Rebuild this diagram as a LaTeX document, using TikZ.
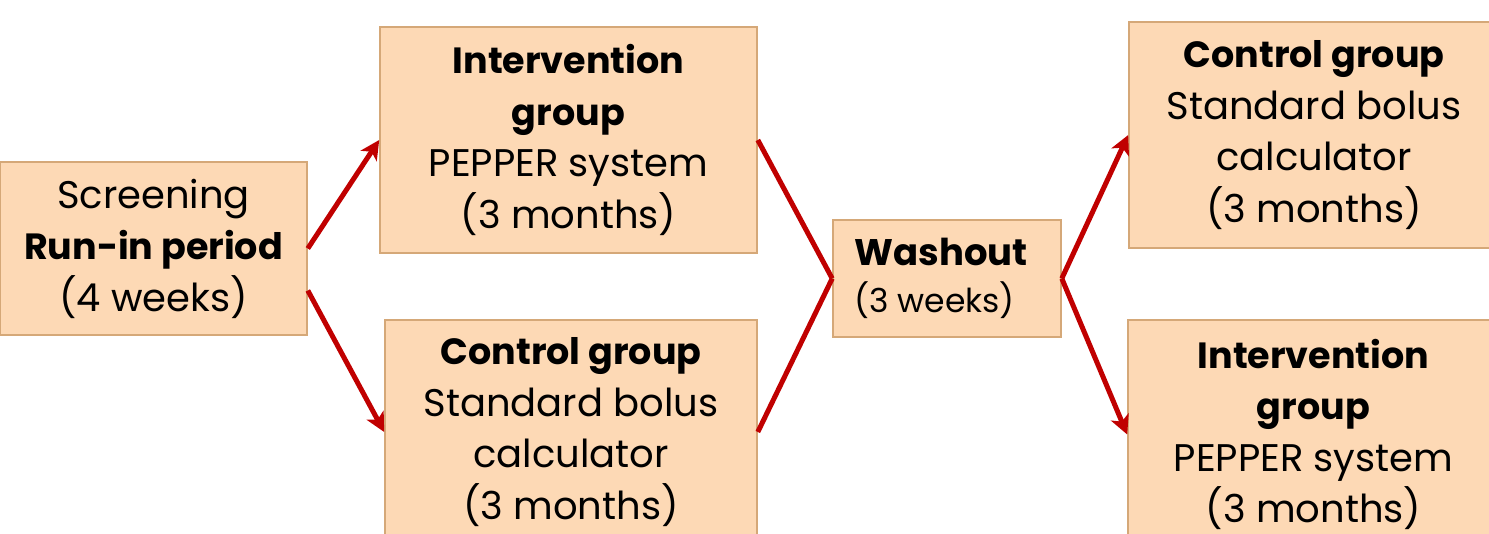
\documentclass[tikz,border=0pt]{standalone}
\usepackage{fontspec}
\setmainfont{Poppins}
\usetikzlibrary{arrows.meta}
\definecolor{boxfill}{HTML}{FDD9B5}
\definecolor{boxline}{HTML}{D5A878}
\definecolor{arrowred}{HTML}{C00000}
\newcommand{\hb}[1]{{\fontsize{36.5}{51.5}\selectfont\bfseries #1}}
\tikzset{
  box/.style={draw=boxline, fill=boxfill, line width=1.6pt, inner sep=0pt, align=center,
    font=\fontsize{38.5}{51.5}\selectfont},
  link/.style={draw=arrowred, line width=5pt},
  arrowlink/.style={link, -{Stealth[length=19pt,width=19pt,inset=5pt]}},
}
\begin{document}
\begin{tikzpicture}[x=1pt,y=-1pt]
\useasboundingbox (0,0) rectangle (1489,534);
\node[box, minimum width=307pt, minimum height=173pt] (scr) at (153.5,248.5)
  {Screening\\\hb{Run-in period}\\(4 weeks)};
\node[box, minimum width=377pt, minimum height=226pt] (int1) at (568.5,140)
  {\hb{Intervention}\\\hb{group}\\PEPPER system\\(3 months)};
\node[box, minimum width=372pt, minimum height=224pt] (ctl1) at (571,432)
  {\hb{Control group}\\Standard bolus\\calculator\\(3 months)};
\node[box, minimum width=228pt, minimum height=117pt, align=left] (wash) at (947,278.5)
  {\hspace*{-12pt}\fontsize{37}{48}\selectfont\textbf{Washout}\\[-4pt]\hspace*{-12pt}{\fontsize{33}{40}\selectfont (3 weeks)}};
\node[box, minimum width=370pt, minimum height=226pt] (ctl2) at (1314,135)
  {\hb{Control group}\\Standard bolus\\calculator\\(3 months)};
\node[box, minimum width=371pt, minimum height=229pt] (int2) at (1313.5,434.5)
  {\hb{Intervention}\\\hb{group}\\PEPPER system\\(3 months)};
\draw[arrowlink] (scr.east) -- (int1.west);
\draw[arrowlink] ([yshift=-42pt]scr.east) -- (ctl1.west);
\draw[link] (int1.east) -- (wash.west);
\draw[link] (ctl1.east) -- (wash.west);
\draw[arrowlink] (wash.east) -- (ctl2.west);
\draw[arrowlink] (wash.east) -- (int2.west);
\end{tikzpicture}
\end{document}
